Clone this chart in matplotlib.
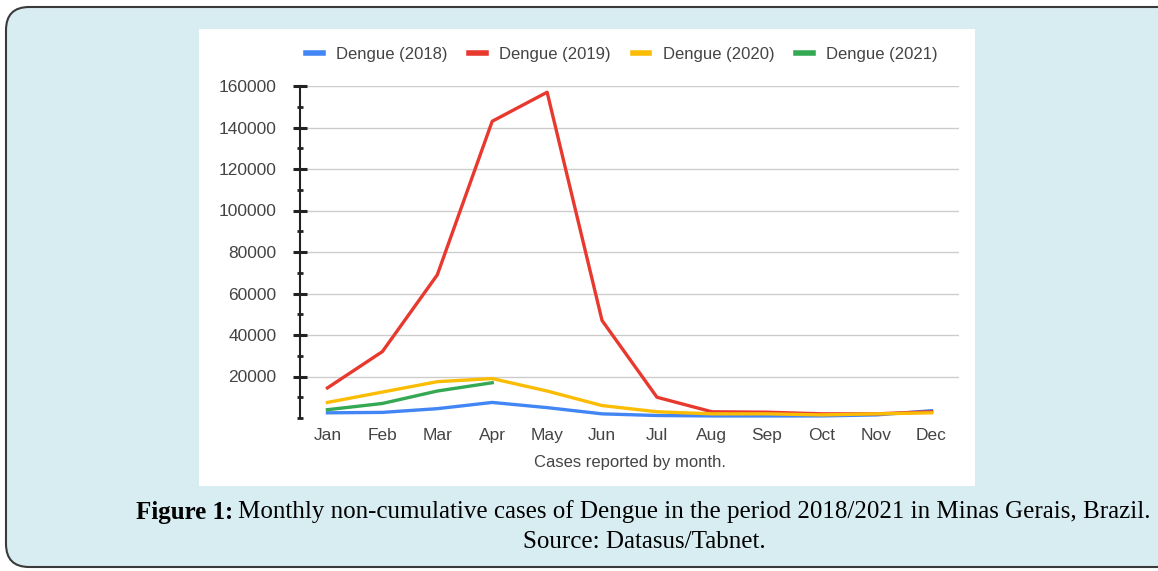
import matplotlib.pyplot as plt
from matplotlib.patches import FancyBboxPatch, Rectangle

# Datos
months = ["Jan", "Feb", "Mar", "Apr", "May", "Jun", "Jul", "Aug", "Sep", "Oct", "Nov", "Dec"]
d2018 = [2500, 2700, 4500, 7500, 5000, 2000, 1200, 1000, 1000, 1000, 1500, 3500]
d2019 = [14500, 32000, 69000, 143000, 157000, 47000, 10000, 3000, 2800, 2000, 2000, 3000]
d2020 = [7500, 12500, 17500, 19000, 13000, 6000, 3000, 2000, 2000, 1500, 2000, 2500]
d2021 = [4000, 7000, 13000, 17000]
series = [("Dengue (2018)", d2018, "#4285f4"),
          ("Dengue (2019)", d2019, "#e8392e"),
          ("Dengue (2020)", d2020, "#fbbc04"),
          ("Dengue (2021)", d2021, "#34a853")]
yticks = [20000, 40000, 60000, 80000, 100000, 120000, 140000, 160000]

W, H = 1158, 571
fig = plt.figure(figsize=(W / 100, H / 100), dpi=100)
fig.patch.set_facecolor("white")

# fondo azul con borde redondeado
bg = FancyBboxPatch((6 / W, 4 / H), 1.2, 564 / H - 4 / H,
                    boxstyle="round,pad=0,rounding_size=0.02",
                    transform=fig.transFigure, facecolor="#d8edf2",
                    edgecolor="#3a3a3a", linewidth=1.5, mutation_aspect=W / H,
                    zorder=-2)
fig.patches.append(bg)
# panel blanco
panel = Rectangle((199 / W, 1 - 486 / H), (975 - 199) / W, (486 - 29) / H,
                  transform=fig.transFigure, facecolor="white", edgecolor="none",
                  zorder=-1)
fig.patches.append(panel)

ax = fig.add_axes([300 / W, 1 - 418 / H, (959 - 300) / W, (418 - 86) / H])
ax.patch.set_alpha(0)
x = list(range(len(months)))
for label, vals, color in series:
    ax.plot(x[:len(vals)], vals, color=color, linewidth=2.4, label=label,
            clip_on=False)

ax.set_xlim(-0.5, 11.5)
ax.set_ylim(0, 160000)
ax.set_yticks(yticks)
ax.set_yticks([v - 10000 for v in yticks] + [0], minor=True)
ax.set_yticklabels([str(v) for v in yticks])
ax.set_xticks(x)
ax.set_xticklabels(months)
ax.grid(axis="y", color="#cccccc", linewidth=1)
ax.set_axisbelow(True)
for s in ["top", "right", "bottom"]:
    ax.spines[s].set_visible(False)
ax.spines["left"].set_color("#222222")
ax.spines["left"].set_linewidth(1.5)
ax.tick_params(axis="y", which="major", direction="inout", length=10, width=2.2,
               color="#222222", labelsize=12.5, labelcolor="#444444", pad=12)
ax.tick_params(axis="y", which="minor", direction="inout", length=5, width=2,
               color="#222222")
ax.tick_params(axis="x", length=0, labelsize=12.5, labelcolor="#444444", pad=7)
for t in ax.get_xticklabels() + ax.get_yticklabels():
    t.set_fontfamily("Liberation Sans")
ax.set_xlabel("Cases reported by month.", fontsize=12, color="#444444",
              family="Liberation Sans", labelpad=9)

leg = fig.legend(loc="center", bbox_to_anchor=(622 / W, 1 - 54 / H), ncol=4,
                 frameon=False, handlelength=1.0, handletextpad=0.8,
                 columnspacing=1.3, prop={"family": "Liberation Sans", "size": 12})
for line in leg.get_lines():
    line.set_linewidth(4)
for t in leg.get_texts():
    t.set_color("#444444")

cap1 = "Monthly non-cumulative cases of Dengue in the period 2018/2021 in Minas Gerais, Brazil."
t1 = fig.text(136 / W, 1 - 512 / H, "Figure 1:", fontsize=18, fontweight="bold",
              family="Liberation Serif", va="center", ha="left")
fig.canvas.draw()
bb = t1.get_window_extent()
fig.text((bb.x1 + 5) / W, 1 - 512 / H, cap1, fontsize=18,
         family="Liberation Serif", va="center", ha="left")
fig.text(644 / W, 1 - 542 / H, "Source: Datasus/Tabnet.", fontsize=18,
         family="Liberation Serif", va="center", ha="center")

fig.savefig("out.png", dpi=100)
